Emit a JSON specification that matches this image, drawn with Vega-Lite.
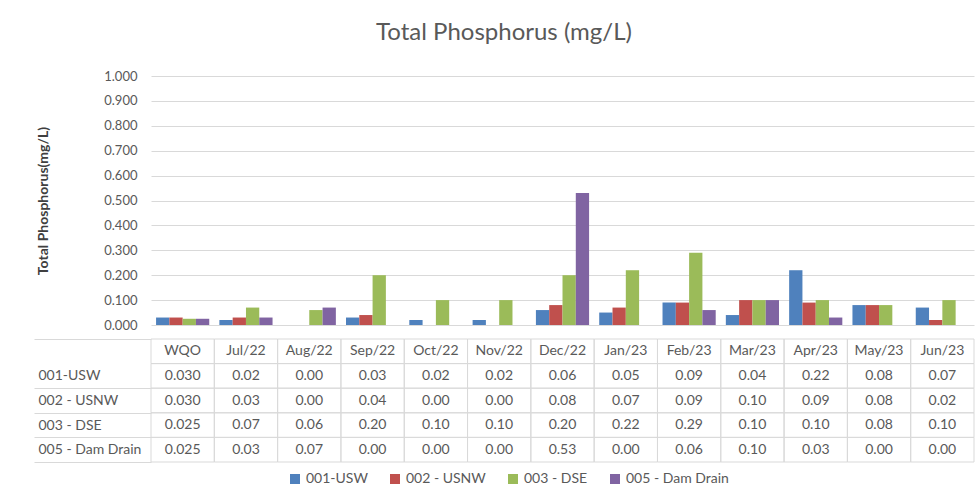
{
  "$schema": "https://vega.github.io/schema/vega-lite/v6.json",
  "background": "white",
  "padding": {"left": 33, "top": 21, "right": 6, "bottom": 0},
  "spacing": 0,
  "config": {
    "font": "Lato",
    "view": {"stroke": null}
  },
  "title": {"text": "Total Phosphorus (mg/L)", "fontSize": 24, "font": "Lato", "fontWeight": "normal", "color": "#595959", "offset": 25, "anchor": "middle"},
  "data": {"values": [
    {"cat": "WQO", "series": "001-USW", "value": 0.030},
    {"cat": "WQO", "series": "002 - USNW", "value": 0.030},
    {"cat": "WQO", "series": "003 - DSE", "value": 0.025},
    {"cat": "WQO", "series": "005 - Dam Drain", "value": 0.025},
    {"cat": "Jul/22", "series": "001-USW", "value": 0.02},
    {"cat": "Jul/22", "series": "002 - USNW", "value": 0.03},
    {"cat": "Jul/22", "series": "003 - DSE", "value": 0.07},
    {"cat": "Jul/22", "series": "005 - Dam Drain", "value": 0.03},
    {"cat": "Aug/22", "series": "001-USW", "value": 0.00},
    {"cat": "Aug/22", "series": "002 - USNW", "value": 0.00},
    {"cat": "Aug/22", "series": "003 - DSE", "value": 0.06},
    {"cat": "Aug/22", "series": "005 - Dam Drain", "value": 0.07},
    {"cat": "Sep/22", "series": "001-USW", "value": 0.03},
    {"cat": "Sep/22", "series": "002 - USNW", "value": 0.04},
    {"cat": "Sep/22", "series": "003 - DSE", "value": 0.20},
    {"cat": "Sep/22", "series": "005 - Dam Drain", "value": 0.00},
    {"cat": "Oct/22", "series": "001-USW", "value": 0.02},
    {"cat": "Oct/22", "series": "002 - USNW", "value": 0.00},
    {"cat": "Oct/22", "series": "003 - DSE", "value": 0.10},
    {"cat": "Oct/22", "series": "005 - Dam Drain", "value": 0.00},
    {"cat": "Nov/22", "series": "001-USW", "value": 0.02},
    {"cat": "Nov/22", "series": "002 - USNW", "value": 0.00},
    {"cat": "Nov/22", "series": "003 - DSE", "value": 0.10},
    {"cat": "Nov/22", "series": "005 - Dam Drain", "value": 0.00},
    {"cat": "Dec/22", "series": "001-USW", "value": 0.06},
    {"cat": "Dec/22", "series": "002 - USNW", "value": 0.08},
    {"cat": "Dec/22", "series": "003 - DSE", "value": 0.20},
    {"cat": "Dec/22", "series": "005 - Dam Drain", "value": 0.53},
    {"cat": "Jan/23", "series": "001-USW", "value": 0.05},
    {"cat": "Jan/23", "series": "002 - USNW", "value": 0.07},
    {"cat": "Jan/23", "series": "003 - DSE", "value": 0.22},
    {"cat": "Jan/23", "series": "005 - Dam Drain", "value": 0.00},
    {"cat": "Feb/23", "series": "001-USW", "value": 0.09},
    {"cat": "Feb/23", "series": "002 - USNW", "value": 0.09},
    {"cat": "Feb/23", "series": "003 - DSE", "value": 0.29},
    {"cat": "Feb/23", "series": "005 - Dam Drain", "value": 0.06},
    {"cat": "Mar/23", "series": "001-USW", "value": 0.04},
    {"cat": "Mar/23", "series": "002 - USNW", "value": 0.10},
    {"cat": "Mar/23", "series": "003 - DSE", "value": 0.10},
    {"cat": "Mar/23", "series": "005 - Dam Drain", "value": 0.10},
    {"cat": "Apr/23", "series": "001-USW", "value": 0.22},
    {"cat": "Apr/23", "series": "002 - USNW", "value": 0.09},
    {"cat": "Apr/23", "series": "003 - DSE", "value": 0.10},
    {"cat": "Apr/23", "series": "005 - Dam Drain", "value": 0.03},
    {"cat": "May/23", "series": "001-USW", "value": 0.08},
    {"cat": "May/23", "series": "002 - USNW", "value": 0.08},
    {"cat": "May/23", "series": "003 - DSE", "value": 0.08},
    {"cat": "May/23", "series": "005 - Dam Drain", "value": 0.00},
    {"cat": "Jun/23", "series": "001-USW", "value": 0.07},
    {"cat": "Jun/23", "series": "002 - USNW", "value": 0.02},
    {"cat": "Jun/23", "series": "003 - DSE", "value": 0.10},
    {"cat": "Jun/23", "series": "005 - Dam Drain", "value": 0.00}
  ]},
  "resolve": {"scale": {"color": "shared"}, "legend": {"color": "shared"}},
  "vconcat": [
    {
      "width": 823,
      "height": 249,
      "mark": {"type": "bar"},
      "encoding": {
        "x": {"field": "cat", "type": "nominal", "sort": null, "axis": null,
              "scale": {"paddingInner": 0.16, "paddingOuter": 0.08}},
        "xOffset": {"field": "series", "type": "nominal", "sort": null},
        "y": {"field": "value", "type": "quantitative",
              "scale": {"domain": [0, 1], "nice": false},
              "axis": {"values": [0, 0.1, 0.2, 0.3, 0.4, 0.5, 0.6, 0.7, 0.8, 0.9, 1.0],
                       "format": ".3f", "domain": false, "ticks": false,
                       "labelPadding": 14, "labelFontSize": 13, "labelColor": "#595959",
                       "gridColor": "#d9d9d9", "gridWidth": 1,
                       "title": "Total Phosphorus(mg/L)", "titleFontSize": 14, "titleFontWeight": "bold",
                       "titleColor": "#404040", "titlePadding": 53}},
        "color": {"field": "series", "type": "nominal", "sort": null,
                  "scale": {"domain": ["001-USW", "002 - USNW", "003 - DSE", "005 - Dam Drain"],
                            "range": ["#4F81BD", "#C0504D", "#9BBB59", "#8064A2"]},
                  "legend": {"orient": "none", "legendX": 137, "legendY": 396, "direction": "horizontal", "title": null,
                             "symbolType": "square", "symbolSize": 100, "symbolStrokeWidth": 0,
                             "labelFontSize": 14, "labelColor": "#595959", "columnPadding": 20, "labelOffset": 4}}
      }
    },
    {
      "width": 823,
      "height": 123,
      "encoding": {
        "x": {"field": "cat", "type": "nominal", "sort": null, "axis": null,
              "scale": {"padding": 0}},
        "y": {"field": "series", "type": "nominal",
              "scale": {"domain": ["hdr", "001-USW", "002 - USNW", "003 - DSE", "005 - Dam Drain"], "padding": 0},
              "axis": {"title": null, "domain": false, "tickBand": "extent", "tickSize": 117,
                       "tickColor": {"condition": {"test": "datum.value === 'hdr'", "value": "transparent"}, "value": "#d9d9d9"},
                       "labelAlign": "left", "labelPadding": -4, "labelFontSize": 14, "labelColor": "#595959",
                       "labelExpr": "datum.value === 'hdr' ? '' : datum.label"}}
      },
      "layer": [
        {"mark": {"type": "rect", "fill": null, "stroke": "#d9d9d9", "strokeWidth": 1}},
        {"transform": [{"filter": "datum.series === '001-USW'"}],
         "mark": {"type": "rect", "fill": null, "stroke": "#d9d9d9", "strokeWidth": 1},
         "encoding": {"y": {"datum": "hdr"}}},
        {"mark": {"type": "text", "fontSize": 14, "color": "#595959"},
         "encoding": {"text": {"condition": {"test": "datum.cat === 'WQO'", "field": "value", "format": ".3f"},
                               "field": "value", "type": "quantitative", "format": ".2f"}}},
        {"transform": [{"filter": "datum.series === '001-USW'"}],
         "mark": {"type": "text", "fontSize": 14, "color": "#595959"},
         "encoding": {"y": {"datum": "hdr"}, "text": {"field": "cat"}}}
      ]
    }
  ]
}
